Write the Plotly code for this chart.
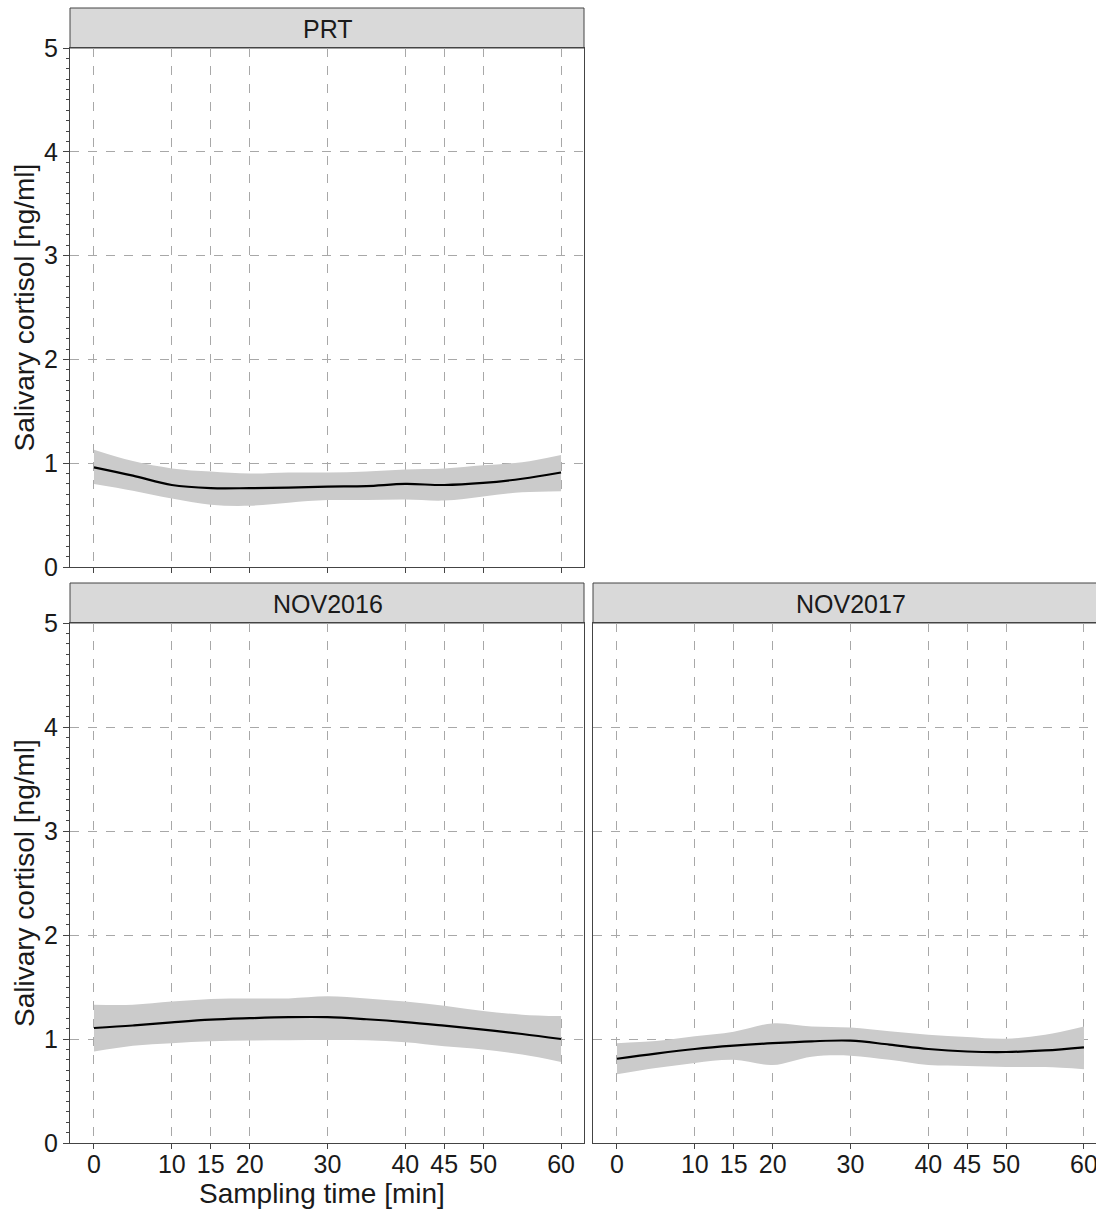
import plotly.graph_objects as go

W, H = 1096, 1209

time_min = [0, 5, 10, 15, 20, 25, 30, 35, 40, 45, 50, 55, 60]
x_ticks = [0, 10, 15, 20, 30, 40, 45, 50, 60]

prt_mean = [0.96, 0.88, 0.79, 0.76, 0.76, 0.765, 0.775, 0.78, 0.80, 0.79, 0.81, 0.85, 0.91]
prt_upper = [1.13, 1.02, 0.95, 0.92, 0.90, 0.91, 0.91, 0.92, 0.94, 0.95, 0.98, 1.01, 1.08]
prt_lower = [0.80, 0.735, 0.66, 0.60, 0.59, 0.62, 0.645, 0.645, 0.65, 0.64, 0.68, 0.72, 0.73]

nov16_mean = [1.106, 1.13, 1.16, 1.186, 1.20, 1.21, 1.21, 1.19, 1.163, 1.128, 1.09, 1.048, 1.0]
nov16_upper = [1.33, 1.33, 1.36, 1.385, 1.39, 1.39, 1.41, 1.39, 1.36, 1.32, 1.27, 1.234, 1.22]
nov16_lower = [0.88, 0.936, 0.96, 0.978, 0.985, 0.987, 0.99, 0.987, 0.968, 0.93, 0.90, 0.85, 0.78]

nov17_mean = [0.81, 0.86, 0.904, 0.936, 0.96, 0.978, 0.984, 0.946, 0.904, 0.88, 0.875, 0.89, 0.92]
nov17_upper = [0.96, 0.98, 1.026, 1.07, 1.15, 1.12, 1.11, 1.074, 1.04, 1.02, 1.003, 1.04, 1.12]
nov17_lower = [0.66, 0.72, 0.77, 0.80, 0.75, 0.83, 0.84, 0.80, 0.75, 0.74, 0.73, 0.73, 0.71]

panels = [
    ("PRT", prt_mean, prt_upper, prt_lower),
    ("NOV2016", nov16_mean, nov16_upper, nov16_lower),
    ("NOV2017", nov17_mean, nov17_upper, nov17_lower),
]

y_title = "Salivary cortisol [ng/ml]"
x_title = "Sampling time [min]"

def px_x(p):
    return p / W

def px_y(p):
    return 1 - p / H

# panel geometry in pixels: (x0, x1, y_top, y_bottom)
geom = [
    (70, 584, 48, 567),
    (70, 584, 623, 1143),
    (593, 1096, 623, 1143),
]
strip_geom = [
    (70, 584, 8, 48),
    (70, 584, 583, 623),
    (593, 1096, 583, 623),
]
px_per_unit = (561 - 94) / 60.0
xr_left = [-3.08, 62.95]
xr_right = [-3.08, -3.08 + (1096 - 593) / px_per_unit]

fig = go.Figure()
FONT = "Liberation Sans, Arial, sans-serif"
AX = "#444444"
GRID = "#a8a8a8"
TXT = "#1a1a1a"

shapes = []
annotations = []

for i, (name, m, up, lo) in enumerate(panels):
    xa = "x" if i == 0 else f"x{i+1}"
    ya = "y" if i == 0 else f"y{i+1}"
    fig.add_trace(go.Scatter(x=time_min, y=up, mode="lines", line=dict(width=0, shape="spline"),
                             showlegend=False, hoverinfo="skip", xaxis=xa, yaxis=ya))
    fig.add_trace(go.Scatter(x=time_min, y=lo, mode="lines", line=dict(width=0, shape="spline"),
                             fill="tonexty", fillcolor="#cbcbcb",
                             showlegend=False, hoverinfo="skip", xaxis=xa, yaxis=ya))
    fig.add_trace(go.Scatter(x=time_min, y=m, mode="lines",
                             line=dict(color="black", width=2.2, shape="spline"),
                             showlegend=False, xaxis=xa, yaxis=ya))

    x0, x1, yt, yb = geom[i]
    xkey = "xaxis" if i == 0 else f"xaxis{i+1}"
    ykey = "yaxis" if i == 0 else f"yaxis{i+1}"
    fig.layout[xkey] = dict(
        domain=[px_x(x0), px_x(x1)], anchor=ya,
        range=xr_right if i == 2 else xr_left,
        tickvals=x_ticks, ticktext=[str(v) for v in x_ticks],
        showticklabels=(i != 0),
        ticks="outside", ticklen=5, tickcolor=AX, tickwidth=1,
        showline=True, linecolor=AX, linewidth=1, mirror=True,
        showgrid=True, gridcolor=GRID, griddash="dash", gridwidth=1,
        zeroline=False,
        tickfont=dict(family=FONT, size=25, color=TXT),
        ticklabeloverflow="allow",
        ticklabelstandoff=-6,
        automargin=False,
    )
    fig.layout[ykey] = dict(
        domain=[px_y(yb), px_y(yt)], anchor=xa,
        range=[0, 5],
        tickvals=[0, 1, 2, 3, 4, 5],
        showticklabels=(i != 2),
        ticks="outside" if i != 2 else "", ticklen=6, tickcolor=AX, tickwidth=1,
        minor=dict(dtick=0.1, ticks="outside" if i != 2 else "", ticklen=3,
                   tickcolor=AX, showgrid=False),
        showline=True, linecolor=AX, linewidth=1, mirror=(i != 2),
        showgrid=True, gridcolor=GRID, griddash="dash", gridwidth=1,
        zeroline=False,
        tickfont=dict(family=FONT, size=25, color=TXT),
        ticklabeloverflow="allow",
        automargin=False,
    )

    sx0, sx1, syt, syb = strip_geom[i]
    shapes.append(dict(type="rect", xref="paper", yref="paper",
                       x0=px_x(sx0), x1=px_x(sx1) if i != 2 else 1.002,
                       y0=px_y(syb), y1=px_y(syt),
                       fillcolor="#d9d9d9", line=dict(color=AX, width=1), layer="below"))
    cx = (sx0 + (sx0 + 515)) / 2
    annotations.append(dict(text=name, xref="paper", yref="paper",
                            x=px_x(cx), y=px_y((syt + syb) / 2 + 1),
                            xanchor="center", yanchor="middle", showarrow=False,
                            font=dict(family=FONT, size=25, color=TXT)))

# y-axis titles
for yc in [(48 + 567) / 2, (623 + 1143) / 2]:
    annotations.append(dict(text=y_title, xref="paper", yref="paper",
                            x=px_x(24), y=px_y(yc), textangle=-90,
                            xanchor="center", yanchor="middle", showarrow=False,
                            font=dict(family=FONT, size=28, color=TXT)))
annotations.append(dict(text=x_title, xref="paper", yref="paper",
                        x=px_x(322), y=px_y(1193),
                        xanchor="center", yanchor="middle", showarrow=False,
                        font=dict(family=FONT, size=28, color=TXT)))

fig.update_layout(
    width=W, height=H,
    margin=dict(l=0, r=0, t=0, b=0),
    paper_bgcolor="white", plot_bgcolor="white",
    shapes=shapes, annotations=annotations,
    showlegend=False,
)

fig.write_html("out.html")
